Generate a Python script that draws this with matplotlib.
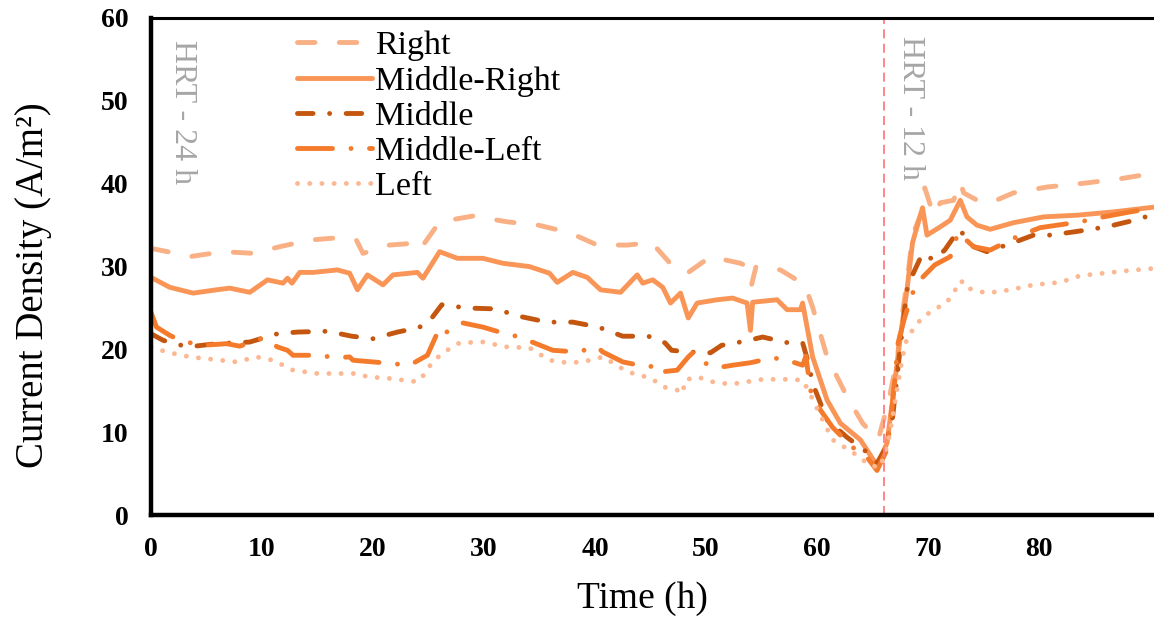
import matplotlib
matplotlib.use('Agg')
import matplotlib.pyplot as plt

plt.rcParams['font.family'] = ['Liberation Serif', 'DejaVu Serif']

# series values (time in h, current density in A/m2)
right_t = [0, 1.5, 3.5, 6.5, 9.2, 11.6, 14.3, 17.0, 18.5, 19.1, 21.5, 23.5, 24.2, 26.0, 29.0,
           32.1, 34.9, 37.7, 40.2, 42.9, 45.1, 46.9, 48.3, 50.4, 53.1, 53.7, 54.1, 54.5, 56.7, 58.9,
           59.6, 60.9, 62.7, 64.1, 65.5, 66.4, 67.2, 67.7, 68.2, 68.6, 69.5, 69.7, 70.5, 71.1, 72.3,
           72.9, 73.2, 74.7, 75.6, 77.7, 80.7, 84.3, 87.3, 90.5]
right_j = [32.2, 31.8, 31.2, 31.8, 31.6, 32.4, 33.2, 33.5, 33.2, 31.6, 32.6, 32.8, 32.0, 35.4, 36.1,
           35.4, 35.0, 34.1, 32.6, 32.6, 32.9, 30.2, 29.2, 31.2, 30.4, 30.0, 27.8, 30.0, 29.6, 27.8,
           25.1, 19.1, 14.3, 11.1, 9.1, 13.5, 18.7, 24.4, 29.2, 33.8, 36.8, 39.5, 36.2, 37.7, 38.0,
           40.2, 38.9, 37.8, 37.7, 38.9, 39.6, 40.1, 40.6, 41.3]

mid_right_t = [0, 1.7, 3.8, 5.9, 7.1, 8.9, 10.5, 11.9, 12.3, 12.7, 13.4, 14.6, 16.8, 17.9, 18.6,
               19.5, 20.9, 21.8, 24.0, 24.5, 26.0, 27.6, 29.9, 31.7, 34.1, 35.9, 36.6, 38.0, 39.3, 40.5,
               42.3, 43.8, 44.3, 45.2, 46.1, 46.8, 47.7, 48.4, 49.2, 51.0, 52.4, 53.7, 54.0, 54.2, 56.4,
               57.3, 58.5, 58.7, 59.6, 60.9, 62.1, 63.9, 65.4, 66.3, 66.8, 67.5, 68.1, 68.6, 69.5, 69.9,
               71.1, 72.0, 72.9, 73.5, 74.4, 75.6, 77.7, 80.4, 83.4, 86.7, 90.5]
mid_right_j = [28.7, 27.5, 26.8, 27.2, 27.4, 26.9, 28.4, 28.0, 28.6, 28.0, 29.3, 29.3, 29.6, 29.2, 27.2,
               29.0, 27.8, 29.0, 29.3, 28.6, 31.8, 31.0, 31.0, 30.4, 30.0, 29.2, 28.1, 29.3, 28.7, 27.2,
               26.9, 29.0, 28.0, 28.4, 27.5, 25.6, 26.8, 23.8, 25.6, 26.0, 26.2, 25.6, 22.3, 25.7, 26.0,
               24.8, 24.8, 25.6, 19.1, 13.9, 11.1, 9.1, 6.0, 8.7, 13.9, 21.5, 27.2, 32.9, 37.1, 33.8,
               34.8, 35.6, 38.0, 36.0, 35.0, 34.5, 35.3, 36.0, 36.2, 36.6, 37.2]

middle_t = [0, 1.1, 3.3, 5.9, 8.9, 11.4, 13.2, 15.9, 18.1, 20.0, 22.2, 24.0, 24.9, 26.2, 28.5,
            31.0, 33.2, 35.7, 38.0, 40.3, 42.5, 44.8, 46.3, 46.9, 48.4, 50.4, 51.4, 53.5, 55.1, 57.4,
            58.7, 59.2, 59.6, 60.9, 62.7, 64.5, 65.4, 66.1, 66.8, 67.5, 68.1, 68.6, 69.5, 70.5, 71.5,
            72.8, 74.1, 75.3, 77.7, 79.5, 81.0, 83.2, 86.1, 88.9, 90.5]
middle_j = [21.9, 21.1, 20.3, 20.7, 20.9, 21.9, 22.1, 22.2, 21.6, 21.3, 22.1, 22.6, 23.1, 25.4, 25.0,
            24.9, 24.0, 23.3, 23.3, 22.7, 21.6, 21.6, 20.8, 19.9, 19.7, 19.6, 20.5, 21.0, 21.5, 20.8,
            20.8, 18.5, 15.9, 11.5, 9.4, 7.6, 6.3, 7.9, 11.8, 20.3, 27.2, 29.0, 31.6, 30.8, 32.0,
            34.5, 32.4, 31.8, 32.9, 33.8, 33.8, 34.2, 34.8, 35.7, 36.4]

mid_left_t = [0, 0.5, 1.7, 2.8, 4.7, 6.8, 8.0, 10.1, 11.4, 12.3, 12.8, 15.0, 16.8, 17.9, 18.2,
              20.0, 23.3, 24.9, 26.0, 26.5, 28.1, 29.9, 31.4, 33.2, 36.2, 38.4, 40.2, 40.7, 42.5, 44.3,
              45.9, 46.0, 47.4, 48.4, 48.8, 49.2, 51.0, 52.4, 54.0, 56.0, 57.3, 58.7, 59.0, 59.4, 60.3,
              61.4, 63.2, 64.5, 65.4, 66.3, 66.8, 67.3, 67.9, 68.6, 69.5, 70.6, 72.0, 72.7, 74.1, 75.6,
              78.0, 80.1, 83.7, 85.8, 88.2, 90.5]
mid_left_j = [24.5, 22.7, 21.7, 21.0, 20.5, 20.7, 20.4, 21.4, 20.3, 19.9, 19.3, 19.3, 19.0, 19.1, 18.7,
              18.5, 18.1, 19.3, 22.6, 22.0, 23.2, 22.7, 22.1, 21.5, 19.9, 19.7, 20.3, 19.7, 18.5, 18.0,
              17.9, 17.3, 17.5, 19.1, 19.6, 18.7, 17.8, 18.1, 18.4, 19.0, 18.7, 18.1, 19.2, 15.1, 12.7,
              10.6, 8.2, 7.0, 5.4, 7.9, 13.5, 20.8, 23.9, 26.8, 28.7, 30.2, 31.2, 34.1, 32.4, 32.0,
              33.6, 34.7, 35.4, 36.0, 36.6, 37.1]

left_t = [0, 1.4, 3.5, 5.6, 7.7, 9.5, 11.0, 12.8, 15.0, 17.0, 18.6, 19.5, 21.5, 24.0, 24.7,
          25.3, 26.3, 27.8, 29.9, 32.1, 34.1, 35.9, 37.5, 38.9, 40.7, 41.6, 42.9, 44.1, 45.2, 46.1,
          47.4, 47.9, 48.1, 49.2, 50.6, 52.2, 53.7, 55.1, 57.3, 58.7, 59.2, 60.5, 61.4, 63.2, 64.8,
          65.7, 66.4, 66.8, 67.3, 67.7, 68.1, 68.8, 69.5, 70.8, 71.7, 72.3, 73.0, 73.3, 74.1, 75.3,
          77.4, 79.5, 81.9, 83.7, 85.8, 87.9, 90.5]
left_j = [20.3, 19.7, 19.1, 18.8, 18.5, 19.1, 18.7, 17.5, 17.1, 17.1, 17.1, 16.7, 16.5, 16.1, 17.1,
          18.4, 19.6, 20.8, 20.9, 20.3, 20.2, 18.7, 18.4, 18.5, 19.1, 18.4, 17.3, 16.9, 16.4, 15.5,
          15.1, 14.7, 16.3, 16.7, 16.1, 15.8, 16.1, 16.4, 16.4, 16.3, 15.1, 11.5, 9.1, 7.6, 6.0,
          5.8, 8.7, 11.8, 15.9, 19.1, 21.4, 22.7, 23.9, 25.0, 25.7, 26.9, 28.3, 27.5, 27.2, 26.8,
          27.2, 27.8, 28.1, 28.9, 29.2, 29.5, 29.8]

hrt_change = 66.0
x_ticks = [0, 10, 20, 30, 40, 50, 60, 70, 80]
y_ticks = [0, 10, 20, 30, 40, 50, 60]

fig = plt.figure(figsize=(11.54, 6.2), dpi=100)
ax = fig.add_axes([0.1308, 0.169, 0.8692, 0.802])

lw = 3.5
ax.plot(right_t, right_j, color='#F9B085', lw=lw, linestyle=(0, (3.6, 5.0)),
        dash_capstyle='round', solid_joinstyle='round', label='Right')
ax.plot(mid_right_t, mid_right_j, color='#F99556', lw=lw,
        solid_capstyle='round', solid_joinstyle='round', label='Middle-Right')
ax.plot(middle_t, middle_j, color='#C5560F', lw=lw, linestyle=(0, (3.2, 3.4, 0.01, 3.4)),
        dash_capstyle='round', solid_joinstyle='round', label='Middle')
ax.plot(mid_left_t, mid_left_j, color='#F57B2C', lw=lw, linestyle=(0, (7.2, 3.8, 0.01, 3.8)),
        dash_capstyle='round', solid_joinstyle='round', label='Middle-Left')
ax.plot(left_t, left_j, color='#FBB893', lw=lw, linestyle=(0, (0.01, 2.5)),
        dash_capstyle='round', solid_joinstyle='round', label='Left')

ax.axvline(hrt_change, color='#FF7C80', lw=1.3, linestyle=(0, (5, 3)))
ax.text(2.8, 57.4, 'HRT - 24 h', rotation=270, ha='center', va='top',
        fontsize=23, color='#A6A6A6')
ax.text(68.4, 57.8, 'HRT - 12 h', rotation=270, ha='center', va='top',
        fontsize=23, color='#A6A6A6')

ax.set_xlim(0, 90.35)
ax.set_ylim(0, 60)
ax.set_xticks(x_ticks)
ax.set_yticks(y_ticks)
ax.tick_params(length=0, labelsize=20, pad=16)
for lab in ax.get_xticklabels() + ax.get_yticklabels():
    lab.set_fontweight('bold')

ax.spines['right'].set_visible(False)
ax.spines['left'].set_linewidth(3.2)
ax.spines['bottom'].set_linewidth(3.2)
ax.spines['top'].set_linewidth(2.2)

ax.set_xlabel('Time (h)', fontsize=27)
ax.set_ylabel('Current Density (A/m²)', fontsize=28)
ax.xaxis.set_label_coords(0.49, -0.133)
ax.yaxis.set_label_coords(-0.0985, 0.462)

ax.legend(loc='upper left', bbox_to_anchor=(0.142, 0.982), frameon=False, fontsize=24.5,
          handlelength=2.2, handletextpad=0.1, labelspacing=0.13, borderpad=0.1,
          borderaxespad=0)

fig.savefig('out.png', dpi=100)
